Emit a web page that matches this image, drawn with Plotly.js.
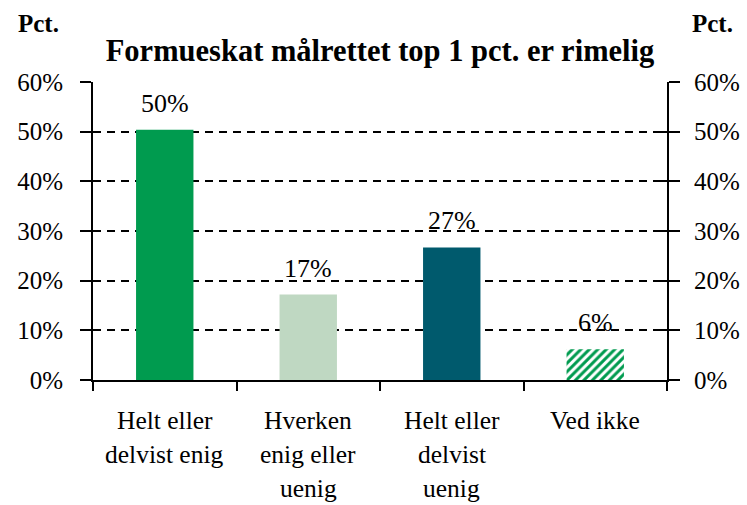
<!DOCTYPE html>
<html>
<head>
<meta charset="utf-8">
<script src="https://cdn.plot.ly/plotly-3.0.1.min.js"></script>
<style>html,body{margin:0;padding:0;background:#fff}#chart{width:747px;height:505px}</style>
</head>
<body>
<div id="chart"></div>
<script>
const categories = ["Helt eller delvist enig", "Hverken enig eller uenig", "Helt eller delvist uenig", "Ved ikke"];
const categoryLines = [["Helt eller", "delvist enig"], ["Hverken", "enig eller", "uenig"], ["Helt eller", "delvist", "uenig"], ["Ved ikke"]];
const values = [50.4, 17.2, 26.7, 6.2];
const valueLabels = ["50%", "17%", "27%", "6%"];
const barColors = ["#009B4F", "#BFD8C2", "#005A6D", "#009B4F"];
const patternShapes = ["", "", "", "/"];
const titleText = "Formueskat målrettet top 1 pct. er rimelig";
const unitLabel = "Pct.";

const FONT = "Liberation Serif";
const yRange = [0, 60];

const bars = {
  type: "bar",
  x: categories,
  y: values,
  marker: {
    color: barColors,
    line: {width: 0},
    pattern: {shape: patternShapes, fgcolor: "#009B4F", bgcolor: "#ffffff", size: 6, solidity: 0.5, fillmode: "replace"}
  },
  hoverinfo: "skip"
};
const ghost = (ax) => ({type: "scatter", x: categories, y: values, yaxis: ax, mode: "none", hoverinfo: "skip", showlegend: false});

const yBase = {range: yRange, dtick: 10, ticksuffix: "%", tickfont: {family: FONT, size: 25, color: "#000"}, fixedrange: true, zeroline: false};

const annotations = categories.map((c, i) => ({
  x: c, y: values[i], xref: "x", yref: "y", text: valueLabels[i], showarrow: false,
  yanchor: "bottom", yshift: 10, font: {family: FONT, size: 26, color: "#000"}
}));
categoryLines.forEach((lines, i) => {
  lines.forEach((line, j) => {
    annotations.push({x: categories[i], y: 0, xref: "x", yref: "y", text: line, showarrow: false,
      yanchor: "middle", yshift: -40 - 34 * j, font: {family: FONT, size: 25.5, color: "#000"}});
  });
});
annotations.push({xref: "paper", yref: "paper", x: -0.135, xanchor: "left", y: 1.195, yanchor: "middle", text: "<b>" + unitLabel + "</b>", showarrow: false, font: {family: FONT, size: 25, color: "#000"}});
annotations.push({xref: "paper", yref: "paper", x: 1.04, xanchor: "left", y: 1.195, yanchor: "middle", text: "<b>" + unitLabel + "</b>", showarrow: false, font: {family: FONT, size: 25, color: "#000"}});

const layout = {
  width: 747, height: 505,
  margin: {l: 93, r: 80, t: 82, b: 125},
  paper_bgcolor: "#fff", plot_bgcolor: "#fff",
  showlegend: false,
  bargap: 0.6,
  title: {text: "<b>" + titleText + "</b>", x: 0.5, xref: "paper", xanchor: "center", y: 0.9, yanchor: "middle", font: {family: FONT, size: 30.5, color: "#000"}},
  xaxis: {type: "category", tickson: "boundaries", ticks: "outside", ticklen: 9, tickwidth: 2, tickcolor: "#000",
    showline: true, linecolor: "#000", linewidth: 2, showgrid: false, fixedrange: true, showticklabels: false},
  yaxis: Object.assign({}, yBase, {side: "left", ticks: "outside", ticklen: 11, tickwidth: 2, tickcolor: "#000", showline: true, linecolor: "#000", linewidth: 2,
    showgrid: true, gridcolor: "#000", gridwidth: 2, griddash: "8px,6px", ticklabelstandoff: 12}),
  yaxis2: Object.assign({}, yBase, {overlaying: "y", side: "left", ticks: "inside", ticklen: 7, tickwidth: 2, tickcolor: "#000", showticklabels: false, showgrid: false, showline: false}),
  yaxis3: Object.assign({}, yBase, {overlaying: "y", side: "right", ticks: "outside", ticklen: 11, tickwidth: 2, tickcolor: "#000", showline: true, linecolor: "#000", linewidth: 2, showgrid: false, ticklabelstandoff: 9}),
  yaxis4: Object.assign({}, yBase, {overlaying: "y", side: "right", ticks: "inside", ticklen: 7, tickwidth: 2, tickcolor: "#000", showticklabels: false, showgrid: false, showline: false}),
  annotations: annotations
};

Plotly.newPlot("chart", [bars, ghost("y2"), ghost("y3"), ghost("y4")], layout, {staticPlot: true, displayModeBar: false});
</script>
</body>
</html>
